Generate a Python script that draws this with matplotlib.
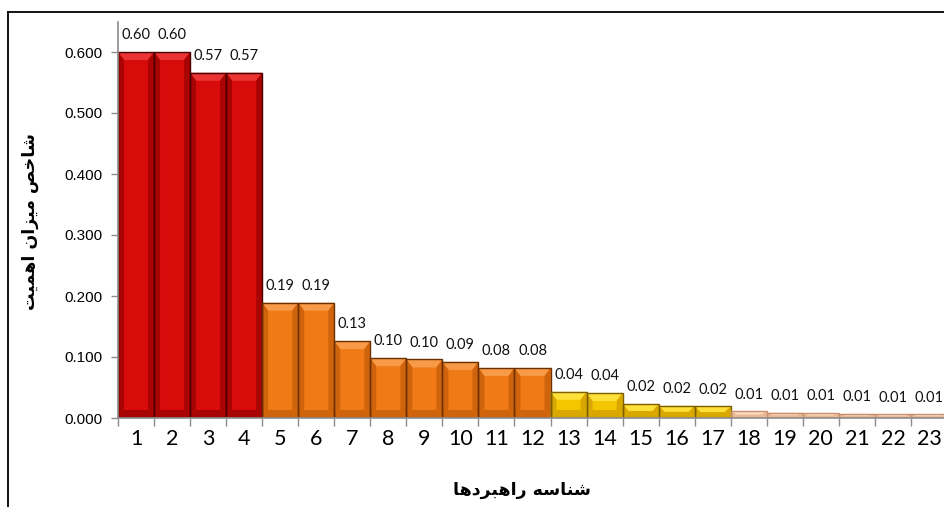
import matplotlib
matplotlib.use("Agg")
import matplotlib.pyplot as plt
from matplotlib.patches import Polygon, Rectangle
from matplotlib.lines import Line2D
import numpy as np

# ---------------- data ----------------
categories = [str(i) for i in range(1, 24)]
values = [0.600, 0.600, 0.566, 0.566, 0.189, 0.189, 0.126, 0.098, 0.096, 0.092,
          0.082, 0.082, 0.043, 0.041, 0.023, 0.020, 0.019, 0.011, 0.009, 0.008,
          0.007, 0.006, 0.006]
groups = ["red"] * 4 + ["orange"] * 8 + ["yellow"] * 5 + ["peach"] * 6
yticks = [0.0, 0.1, 0.2, 0.3, 0.4, 0.5, 0.6]
ylabel_text = "شاخص میزان اهمیت"
xlabel_text = "شناسه راهبردها"

palette = {
    # base, top highlight, sides, edge
    "red": ("#D80B0B", "#EA3434", "#A80404", "#4A0000"),
    "orange": ("#F07A16", "#F89A48", "#CF640C", "#6A3000"),
    "yellow": ("#F4C600", "#FFE03A", "#D8A800", "#7A5E00"),
    "peach": ("#F6C8A6", "#FADCC4", "#ECB892", "#C8906E"),
}

# ------------- Persian shaping (presentation forms) -------------
FORMS = {
    "ا": (0xFE8D, 0xFE8E), "د": (0xFEA9, 0xFEAA), "ر": (0xFEAD, 0xFEAE),
    "ز": (0xFEAF, 0xFEB0),
    "ب": (0xFE8F, 0xFE90, 0xFE91, 0xFE92), "ت": (0xFE95, 0xFE96, 0xFE97, 0xFE98),
    "خ": (0xFEA5, 0xFEA6, 0xFEA7, 0xFEA8), "س": (0xFEB1, 0xFEB2, 0xFEB3, 0xFEB4),
    "ش": (0xFEB5, 0xFEB6, 0xFEB7, 0xFEB8), "ص": (0xFEB9, 0xFEBA, 0xFEBB, 0xFEBC),
    "م": (0xFEE1, 0xFEE2, 0xFEE3, 0xFEE4), "ن": (0xFEE5, 0xFEE6, 0xFEE7, 0xFEE8),
    "ه": (0xFEE9, 0xFEEA, 0xFEEB, 0xFEEC), "ی": (0xFBFC, 0xFBFD, 0xFEF3, 0xFEF4),
}


def shape(s):
    out = []
    for i, c in enumerate(s):
        if c not in FORMS:
            out.append(c)
            continue
        f = FORMS[c]
        prev = s[i - 1] if i > 0 else None
        nxt = s[i + 1] if i + 1 < len(s) else None
        jp = prev in FORMS and len(FORMS[prev]) == 4
        jn = len(f) == 4 and nxt in FORMS
        if jp and jn:
            out.append(chr(f[3]))
        elif jp:
            out.append(chr(f[1]))
        elif jn:
            out.append(chr(f[2]))
        else:
            out.append(chr(f[0]))
    return "".join(out)[::-1]


# ---------------- figure ----------------
W, H = 944, 507
fig = plt.figure(figsize=(W / 100, H / 100), dpi=100)
ax_left, ax_right = 118, 947
ax_top, ax_bottom = 21.5, 418
ax = fig.add_axes([ax_left / W, (H - ax_bottom) / H,
                   (ax_right - ax_left) / W, (ax_bottom - ax_top) / H])
ax.set_xlim(0.5, len(values) + 0.5)
ax.set_ylim(0, 0.65)

xs = np.arange(1, len(values) + 1)
ax.bar(xs, values, width=1.0, color=[palette[g][0] for g in groups],
       edgecolor="none", linewidth=0, zorder=2)

# bevel overlay
px_x = (ax_right - ax_left) / len(values)
px_y = (ax_bottom - ax_top) / 0.65
bx = 6.0 / px_x
for x, h, g in zip(xs, values, groups):
    base, top, side, edge = palette[g]
    x0, x1 = x - 0.5, x + 0.5
    by = min(8.0 / px_y, h / 2)
    polys = [
        ([(x0, h), (x1, h), (x1 - bx, h - by), (x0 + bx, h - by)], top),
        ([(x0, 0), (x0, h), (x0 + bx, h - by), (x0 + bx, by)], side),
        ([(x1, 0), (x1, h), (x1 - bx, h - by), (x1 - bx, by)], side),
        ([(x0, 0), (x1, 0), (x1 - bx, by), (x0 + bx, by)], side),
    ]
    for pts, col in polys:
        ax.add_patch(Polygon(pts, closed=True, facecolor=col, edgecolor="none",
                             zorder=3))
    ax.add_patch(Rectangle((x0, 0), 1.0, h, facecolor="none",
                           edgecolor=edge, linewidth=1.0, zorder=4))
    ax.annotate(f"{h:.2f}", (x, h), xytext=(0, 7), textcoords="offset points",
                ha="center", va="bottom", fontsize=10.5, family="Lato",
                color="#111111", zorder=5)

# axes styling
for sp in ["top", "right"]:
    ax.spines[sp].set_visible(False)
for sp in ["left", "bottom"]:
    ax.spines[sp].set_color("#8C8C8C")
    ax.spines[sp].set_linewidth(1.2)
    ax.spines[sp].set_zorder(6)

ax.set_yticks(yticks)
ax.set_yticklabels([f"{v:.3f}" for v in yticks], family="Liberation Sans",
                   fontsize=11)
ax.tick_params(axis="y", length=5, width=1, color="#8C8C8C", pad=6)

ax.set_xticks(xs)
ax.set_xticklabels(categories, family="Lato", fontsize=15.5)
ax.tick_params(axis="x", which="major", length=0, pad=8)
ax.set_xticks(np.arange(0.5, len(values) + 0.51, 1.0), minor=True)
ax.tick_params(axis="x", which="minor", length=6, width=1, color="#8C8C8C")

fig.text(30 / W, 1 - 222 / H, shape(ylabel_text), rotation=90, ha="center",
         va="center", fontsize=12.5, fontweight="bold", family=["DejaVu Sans"])
fig.text(522 / W, 1 - 490 / H, shape(xlabel_text), ha="center", va="center",
         fontsize=12.5, fontweight="bold", family=["DejaVu Sans"])

# outer frame (partially visible in reference)
fig.add_artist(Line2D([8 / W, 1.0], [1 - 11.5 / H, 1 - 11.5 / H],
                      transform=fig.transFigure, color="black", linewidth=1.3))
fig.add_artist(Line2D([8 / W, 8 / W], [0, 1 - 11.5 / H],
                      transform=fig.transFigure, color="black", linewidth=1.3))

fig.savefig("out.png", dpi=100)
